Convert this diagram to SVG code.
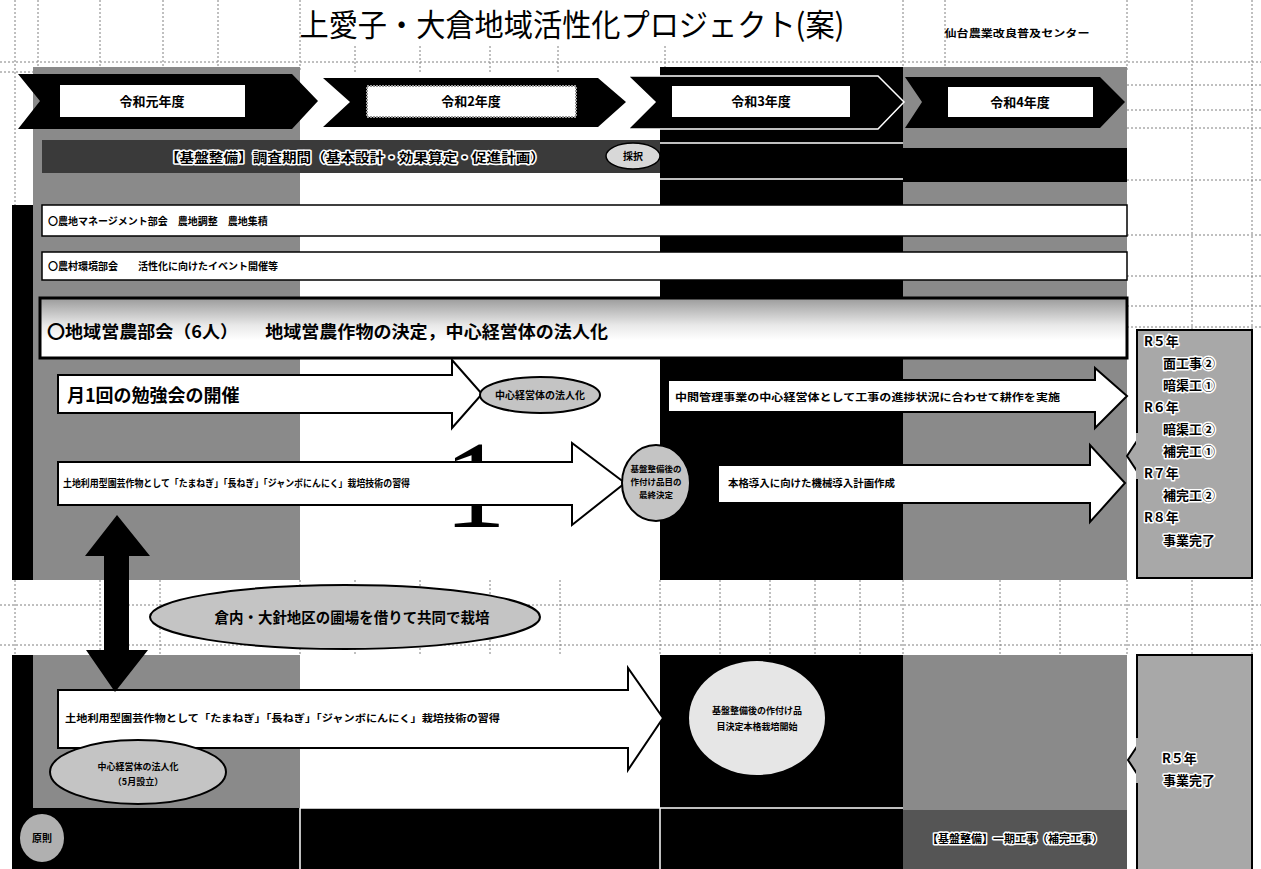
<svg xmlns="http://www.w3.org/2000/svg" width="1261" height="869" viewBox="0 0 1261 869">
<defs>
<style>
.grid{stroke:#808080;stroke-width:1;stroke-dasharray:2 2;fill:none}
.jp{font-family:"Noto Sans CJK JP","Noto Sans",sans-serif}
.lbl{font-family:"Noto Sans CJK JP",sans-serif;font-weight:700;fill:#000}
.halo{font-family:"Noto Sans CJK JP",sans-serif;font-weight:700;fill:#000;stroke:#fff;stroke-width:3;paint-order:stroke;stroke-linejoin:round}
.chev{fill:#000}
.arrow{fill:#fff;stroke:#000;stroke-width:2;stroke-linejoin:miter}
.ell{fill:#c4c4c4;stroke:#000;stroke-width:2}
.half{fill:#8a8a8a}
.row{fill:#fff;stroke:#000;stroke-width:1.5}
</style>
<linearGradient id="rowgrad" x1="0" y1="0" x2="0" y2="1">
<stop offset="0" stop-color="#9a9a9a"/>
<stop offset="0.45" stop-color="#e8e8e8"/>
<stop offset="0.7" stop-color="#fff"/>
</linearGradient>
</defs>
<rect width="1261" height="869" fill="#fff"/>

<g id="grid">
<line class="grid" x1="0" y1="62" x2="1261" y2="62"/>
<line class="grid" x1="0" y1="72" x2="40" y2="72"/>
<line class="grid" x1="15" y1="0" x2="15" y2="869"/>
<line class="grid" x1="38" y1="0" x2="38" y2="72"/>
<line class="grid" x1="100" y1="0" x2="100" y2="72"/>
<line class="grid" x1="163" y1="0" x2="163" y2="72"/>
<line class="grid" x1="218" y1="0" x2="218" y2="72"/>
<line class="grid" x1="300" y1="0" x2="300" y2="72"/>
<line class="grid" x1="355" y1="46" x2="355" y2="72"/>
<line class="grid" x1="420" y1="46" x2="420" y2="72"/>
<line class="grid" x1="490" y1="46" x2="490" y2="72"/>
<line class="grid" x1="558" y1="46" x2="558" y2="72"/>
<line class="grid" x1="665" y1="46" x2="665" y2="72"/>
<line class="grid" x1="903" y1="0" x2="903" y2="72"/>
<line class="grid" x1="945" y1="0" x2="945" y2="72"/>
<line class="grid" x1="1127" y1="0" x2="1127" y2="72"/>
<line class="grid" x1="1192" y1="0" x2="1192" y2="869"/>
<line class="grid" x1="1252" y1="0" x2="1252" y2="869"/>
<line class="grid" x1="1127" y1="85" x2="1261" y2="85"/>
<line class="grid" x1="1127" y1="110" x2="1261" y2="110"/>
<line class="grid" x1="1127" y1="128" x2="1261" y2="128"/>
<line class="grid" x1="1127" y1="180" x2="1261" y2="180"/>
<line class="grid" x1="1127" y1="235" x2="1261" y2="235"/>
<line class="grid" x1="1127" y1="276" x2="1261" y2="276"/>
<line class="grid" x1="1127" y1="306" x2="1261" y2="306"/>
<line class="grid" x1="1127" y1="327" x2="1261" y2="327"/>
<line class="grid" x1="0" y1="605" x2="1261" y2="605"/>
<line class="grid" x1="0" y1="645" x2="1261" y2="645"/>
<line class="grid" x1="100" y1="580" x2="100" y2="655"/>
<line class="grid" x1="160" y1="580" x2="160" y2="655"/>
<line class="grid" x1="300" y1="580" x2="300" y2="655"/>
<line class="grid" x1="355" y1="580" x2="355" y2="655"/>
<line class="grid" x1="420" y1="580" x2="420" y2="655"/>
<line class="grid" x1="490" y1="580" x2="490" y2="655"/>
<line class="grid" x1="560" y1="580" x2="560" y2="655"/>
<line class="grid" x1="660" y1="580" x2="660" y2="655"/>
<line class="grid" x1="720" y1="580" x2="720" y2="655"/>
<line class="grid" x1="770" y1="580" x2="770" y2="655"/>
<line class="grid" x1="815" y1="580" x2="815" y2="655"/>
<line class="grid" x1="860" y1="580" x2="860" y2="655"/>
<line class="grid" x1="903" y1="580" x2="903" y2="655"/>
<line class="grid" x1="1000" y1="580" x2="1000" y2="655"/>
<line class="grid" x1="1060" y1="580" x2="1060" y2="655"/>
<line class="grid" x1="1127" y1="580" x2="1127" y2="655"/>
</g>

<g id="title">
<text class="jp" x="572" y="36" font-size="31" text-anchor="middle" textLength="545" lengthAdjust="spacingAndGlyphs">上愛子・大倉地域活性化プロジェクト(案)</text>
<text class="lbl" x="1017" y="37" font-size="10" text-anchor="middle" textLength="145" lengthAdjust="spacingAndGlyphs">仙台農業改良普及センター</text>
</g>

<g id="columns">
<rect class="half" x="33" y="67" width="267" height="513"/>
<rect x="660" y="67" width="243" height="513" fill="#000"/>
<rect class="half" x="903" y="67" width="224" height="513"/>
<rect x="903" y="148" width="224" height="34" fill="#000"/>
<line x1="660" y1="143" x2="903" y2="143" stroke="#fff" stroke-width="1.5"/>
<line x1="660" y1="179" x2="903" y2="179" stroke="#fff" stroke-width="1.5"/>
<rect x="12" y="205" width="21" height="375" fill="#000"/>
<rect class="half" x="33" y="655" width="267" height="153"/>
<rect x="660" y="655" width="243" height="153" fill="#000"/>
<rect class="half" x="903" y="655" width="224" height="155"/>
<rect x="12" y="655" width="21" height="214" fill="#000"/>
<rect x="33" y="808" width="870" height="61" fill="#000"/>
<rect x="903" y="810" width="224" height="59" fill="#555"/>
<line x1="300" y1="808" x2="300" y2="869" stroke="#fff" stroke-width="1.5"/>
<line x1="300" y1="808" x2="903" y2="808" stroke="#fff" stroke-width="1.5"/>
<line x1="660" y1="808" x2="660" y2="869" stroke="#fff" stroke-width="1.5"/>
</g>

<g id="year1">
<polygon class="chev" points="18,74 292,74 318,101 292,129 18,129 40,101"/>
<rect x="60" y="85" width="185" height="32" fill="#fff"/>
<text class="lbl" x="152" y="106" font-size="13" text-anchor="middle">令和元年度</text>
</g>
<g id="year2">
<polygon class="chev" points="323,78 598,78 626,102 598,127 323,127 350,102"/>
<rect x="367" y="86" width="209" height="31" fill="#fff" stroke="#999" stroke-width="2" stroke-dasharray="2 1"/>
<text class="lbl" x="471" y="106" font-size="13" text-anchor="middle">令和2年度</text>
</g>
<g id="year3">
<polygon class="chev" points="628,76 878,76 904,102 878,129 628,129 655,102" stroke="#fff" stroke-width="1.5"/>
<rect x="672" y="86" width="178" height="31" fill="#fff"/>
<text class="lbl" x="761" y="106" font-size="13" text-anchor="middle">令和3年度</text>
</g>
<g id="year4">
<polygon class="chev" points="905,77 1100,77 1125,102 1100,128 905,128 922,102"/>
<rect x="948" y="87" width="145" height="30" fill="#fff"/>
<text class="lbl" x="1020" y="107" font-size="13" text-anchor="middle">令和4年度</text>
</g>

<g id="survey">
<rect x="42" y="140" width="618" height="33" fill="#3a3a3a"/>
<text class="halo" x="355" y="162" font-size="13" text-anchor="middle" textLength="380" lengthAdjust="spacingAndGlyphs">【基盤整備】調査期間（基本設計・効果算定・促進計画）</text>
<ellipse cx="633" cy="156" rx="27" ry="13" fill="#d8d8d8" stroke="#000" stroke-width="1.5"/>
<text class="lbl" x="633" y="160" font-size="10" text-anchor="middle">採択</text>
</g>

<g id="farmland">
<rect class="row" x="42" y="205" width="1085" height="31"/>
<text class="lbl" x="48" y="225" font-size="10">〇農地マネージメント部会　農地調整　農地集積</text>
</g>
<g id="village">
<rect class="row" x="42" y="252" width="1085" height="28"/>
<text class="lbl" x="48" y="270" font-size="10">〇農村環境部会　　活性化に向けたイベント開催等</text>
</g>
<g id="farming">
<rect x="40" y="298" width="1087" height="60" fill="url(#rowgrad)" stroke="#000" stroke-width="3"/>
<text class="lbl" x="47" y="338" font-size="17" textLength="561" lengthAdjust="spacingAndGlyphs">〇地域営農部会（6人）　　地域営農作物の決定，中心経営体の法人化</text>
</g>

<g id="bigone">
<text x="475" y="527" font-family="Liberation Serif,serif" font-size="125" text-anchor="middle" fill="#000">1</text>
</g>

<g id="connectors">
<polygon class="arrow" points="58,375 452,375 452,360 482,394 452,428 452,413 58,413"/>
<polygon class="arrow" points="668,380 1095,380 1095,368 1127,396 1095,428 1095,412 668,412"/>
<polygon class="arrow" points="58,462 572,462 572,443 625,483 572,525 572,505 58,505"/>
<polygon class="arrow" points="718,465 1090,465 1090,445 1125,483 1090,522 1090,503 718,503"/>
<polygon class="arrow" points="58,690 628,690 628,668 663,718 628,770 628,748 58,748"/>
<polygon fill="#000" points="117,515 150,556 129,556 129,650 148,650 115,692 86,650 104,650 104,556 85,556"/>
<polygon fill="#a8a8a8" stroke="#000" stroke-width="2" points="1139,432 1156,432 1156,412 1127,456 1156,500 1156,480 1139,480"/>
<polygon fill="#a8a8a8" stroke="#000" stroke-width="2" points="1139,737 1158,737 1158,715 1128,760 1158,806 1158,784 1139,784"/>
</g>

<g id="study">
<text class="lbl" x="67" y="402" font-size="18">月1回の勉強会の開催</text>
</g>
<g id="corp1">
<ellipse class="ell" cx="540" cy="395" rx="60" ry="18"/>
<text class="lbl" x="540" y="399" font-size="10" text-anchor="middle">中心経営体の法人化</text>
</g>
<g id="midmgmt">
<text class="lbl" x="675" y="401" font-size="10.5" textLength="385" lengthAdjust="spacingAndGlyphs">中間管理事業の中心経営体として工事の進捗状況に合わせて耕作を実施</text>
</g>
<g id="crops1">
<text class="lbl" x="63" y="487" font-size="10" textLength="347" lengthAdjust="spacingAndGlyphs">土地利用型園芸作物として「たまねぎ」「長ねぎ」「ジャンボにんにく」栽培技術の習得</text>
</g>
<g id="decide1">
<ellipse class="ell" cx="656" cy="483" rx="34" ry="38"/>
<text class="lbl" font-size="8.5" text-anchor="middle"><tspan x="656" y="472">基盤整備後の</tspan><tspan x="656" y="485">作付け品目の</tspan><tspan x="656" y="498">最終決定</tspan></text>
</g>
<g id="machine">
<text class="lbl" x="728" y="487" font-size="10.5" textLength="167" lengthAdjust="spacingAndGlyphs">本格導入に向けた機械導入計画作成</text>
</g>

<g id="joint">
<ellipse class="ell" cx="345" cy="617" rx="195" ry="32"/>
<text class="lbl" x="352" y="623" font-size="15" text-anchor="middle" textLength="275" lengthAdjust="spacingAndGlyphs">倉内・大針地区の圃場を借りて共同で栽培</text>
</g>

<g id="crops2">
<text class="lbl" x="65" y="722" font-size="10" textLength="435" lengthAdjust="spacingAndGlyphs">土地利用型園芸作物として「たまねぎ」「長ねぎ」「ジャンボにんにく」栽培技術の習得</text>
</g>
<g id="corp2">
<ellipse class="ell" cx="138" cy="772" rx="88" ry="32"/>
<text class="lbl" font-size="9" text-anchor="middle"><tspan x="138" y="770">中心経営体の法人化</tspan><tspan x="138" y="785">（5月設立）</tspan></text>
</g>
<g id="decide2">
<ellipse cx="757" cy="718" rx="68" ry="57" fill="#e6e6e6"/>
<text class="lbl" font-size="9" text-anchor="middle"><tspan x="757" y="714">基盤整備後の作付け品</tspan><tspan x="757" y="730">目決定本格栽培開始</tspan></text>
</g>
<g id="adopt2">
<ellipse cx="42" cy="838" rx="22" ry="24" fill="#b0b0b0"/>
<text class="lbl" x="42" y="842" font-size="10" text-anchor="middle">原則</text>
</g>
<g id="works2">
<text class="halo" x="1015" y="843" font-size="11" text-anchor="middle">【基盤整備】一期工事（補完工事）</text>
</g>

<g id="schedule1">
<rect x="1137" y="330" width="115" height="248" fill="#a8a8a8" stroke="#000" stroke-width="2"/>
<rect x="1136" y="433" width="5" height="46" fill="#a8a8a8"/>
<text class="halo" font-size="13"><tspan x="1144" y="346">R５年</tspan><tspan x="1163" y="368">面工事②</tspan><tspan x="1163" y="390">暗渠工①</tspan><tspan x="1144" y="412">R６年</tspan><tspan x="1163" y="434">暗渠工②</tspan><tspan x="1163" y="456">補完工①</tspan><tspan x="1144" y="478">R７年</tspan><tspan x="1163" y="500">補完工②</tspan><tspan x="1144" y="522">R８年</tspan><tspan x="1163" y="545">事業完了</tspan></text>
</g>
<g id="schedule2">
<rect x="1137" y="655" width="115" height="220" fill="#a8a8a8" stroke="#000" stroke-width="2"/>
<rect x="1136" y="738" width="5" height="45" fill="#a8a8a8"/>
<text class="halo" font-size="13"><tspan x="1162" y="763">R５年</tspan><tspan x="1163" y="785">事業完了</tspan></text>
</g>
</svg>
